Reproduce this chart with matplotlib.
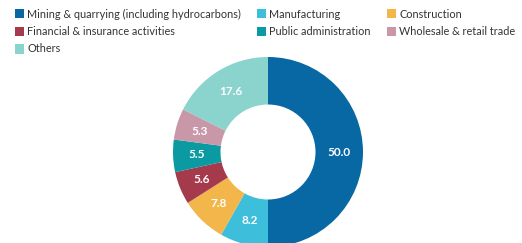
import matplotlib
matplotlib.use("Agg")
import matplotlib.pyplot as plt
from matplotlib.patches import Rectangle

categories = ["Mining & quarrying (including hydrocarbons)", "Manufacturing", "Construction",
              "Financial & insurance activities", "Public administration", "Wholesale & retail trade",
              "Others"]
values = [50.0, 8.2, 7.8, 5.6, 5.5, 5.3, 17.6]
colors = ["#0768a3", "#3dbfdc", "#f2b64b", "#a53a4c", "#0b9aa2", "#c898a8", "#8ad4cd"]

plt.rcParams['font.family'] = ['Lato', 'DejaVu Sans']

W, H = 522, 243
fig = plt.figure(figsize=(W / 100, H / 100), dpi=100)

cx, cy, r = 268, 152, 95
ax = fig.add_axes([(cx - r) / W, (H - cy - r) / H, 2 * r / W, 2 * r / H])
wedges, texts = ax.pie(values, colors=colors, startangle=90, counterclock=False,
                       radius=1.0, wedgeprops=dict(width=0.5, linewidth=0),
                       labels=[f"{v:.1f}" for v in values], labeldistance=0.75,
                       textprops=dict(color="white", fontsize=8.5, fontweight="bold",
                                      ha="center", va="center"))
ax.set_xlim(-1, 1)
ax.set_ylim(-1, 1)
ax.set_aspect("auto")
ax.axis("off")

# measure to fit the reference width of the longest label (~212 px)
renderer = fig.canvas.get_renderer()
probe = fig.text(0, 0, categories[0], fontsize=9)
w9 = probe.get_window_extent(renderer).width
probe.remove()
fs = 9 * 212 / w9

# legend, 3 columns row-major
col_x = [15, 257, 387]
row_y = [14, 31.5, 49]
for i, (lab, col) in enumerate(zip(categories, colors)):
    rw, cl = divmod(i, 3)
    x, y = col_x[cl], row_y[rw]
    fig.add_artist(Rectangle((x / W, (H - y - 4.5) / H), 9 / W, 9 / H,
                             transform=fig.transFigure, facecolor=col, edgecolor="none"))
    fig.text((x + 12) / W, (H - y) / H, lab, fontsize=fs, color="#333333",
             ha="left", va="center")

fig.savefig("out.png", dpi=100)
